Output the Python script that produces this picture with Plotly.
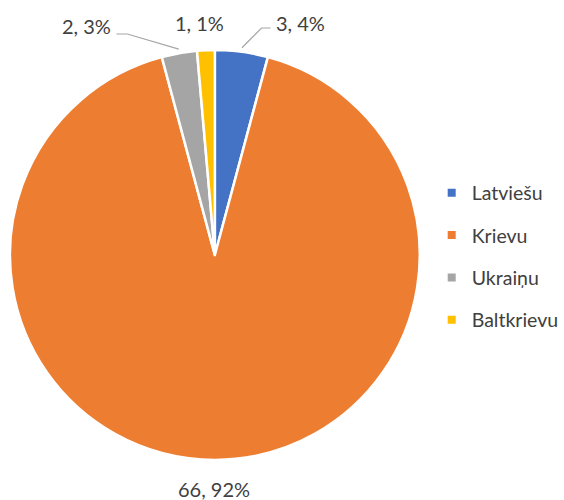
import math
import plotly.graph_objects as go

# ---- data ----
labels = ["Latviešu", "Krievu", "Ukraiņu", "Baltkrievu"]
values = [3, 66, 2, 1]
colors = ["#4472C4", "#ED7D31", "#A5A5A5", "#FFC000"]

# ---- layout constants (pixels) ----
W, H = 564, 500
CX, CY, R = 216, 255, 206
FONT = "Lato"
TXT = "#404040"

# label placement style: offset of text anchor from pie centre, x-anchor
label_style = {
    "Latviešu": dict(dx=59, dy=-232, xanchor="left"),
    "Krievu": dict(dx=-1, dy=234, xanchor="center"),
    "Ukraiņu": dict(dx=-102, dy=-229, xanchor="right"),
    "Baltkrievu": dict(dx=-15, dy=-232, xanchor="center"),
}
# leader lines: elbow and end offsets from pie centre (px)
leader_style = {
    "Latviešu": dict(r0=209, elbow=(47, -227), end=(56, -227)),
    "Ukraiņu": dict(r0=209, elbow=(-88, -221), end=(-99, -221)),
}


def px(x):
    return x / W


def py(y):
    return 1 - y / H


total = sum(values)
texts = [f"{v}, {round(100 * v / total)}%" for v in values]

fig = go.Figure()
fig.add_trace(go.Pie(
    labels=labels, values=values, sort=False, direction="clockwise", rotation=0,
    marker=dict(colors=colors, line=dict(color="white", width=2.5)),
    textinfo="none", hoverinfo="label+value+percent", showlegend=False,
    domain=dict(x=[px(CX - R), px(CX + R)], y=[py(CY + R), py(CY - R)]),
))

# legend entries
for lab, col in zip(labels, colors):
    fig.add_trace(go.Scatter(
        x=[None], y=[None], mode="markers", name=lab, legendgroup=lab,
        marker=dict(symbol="square", size=8, color=col), showlegend=True,
    ))

# data labels
cum = 0
shapes = []
for lab, v, t in zip(labels, values, texts):
    mid = (cum + v / 2) / total * 2 * math.pi
    cum += v
    s = label_style[lab]
    fig.add_annotation(
        x=px(CX + s["dx"]), y=py(CY + s["dy"]), xref="paper", yref="paper",
        text=t, showarrow=False, xanchor=s["xanchor"], yanchor="middle",
        font=dict(family=FONT, size=20, color=TXT),
    )
    if lab in leader_style:
        L = leader_style[lab]
        x0 = CX + L["r0"] * math.sin(mid)
        y0 = CY - L["r0"] * math.cos(mid)
        x1, y1 = CX + L["elbow"][0], CY + L["elbow"][1]
        x2, y2 = CX + L["end"][0], CY + L["end"][1]
        shapes.append(dict(
            type="path", xref="paper", yref="paper",
            path=f"M {px(x0)} {py(y0)} L {px(x1)} {py(y1)} L {px(x2)} {py(y2)}",
            line=dict(color="#A6A6A6", width=1.2),
        ))

fig.update_layout(
    width=W, height=H, margin=dict(l=0, r=0, t=0, b=0),
    paper_bgcolor="white", plot_bgcolor="white",
    xaxis=dict(visible=False), yaxis=dict(visible=False),
    shapes=shapes,
    showlegend=True,
    legend=dict(
        x=px(434), xanchor="left", y=py(256.5), yanchor="middle",
        font=dict(family=FONT, size=19.5, color=TXT),
        tracegroupgap=14, bgcolor="rgba(0,0,0,0)",
    ),
)

fig.write_html("out.html", config={"displayModeBar": False},
               post_script="document.body.style.margin='0';")
